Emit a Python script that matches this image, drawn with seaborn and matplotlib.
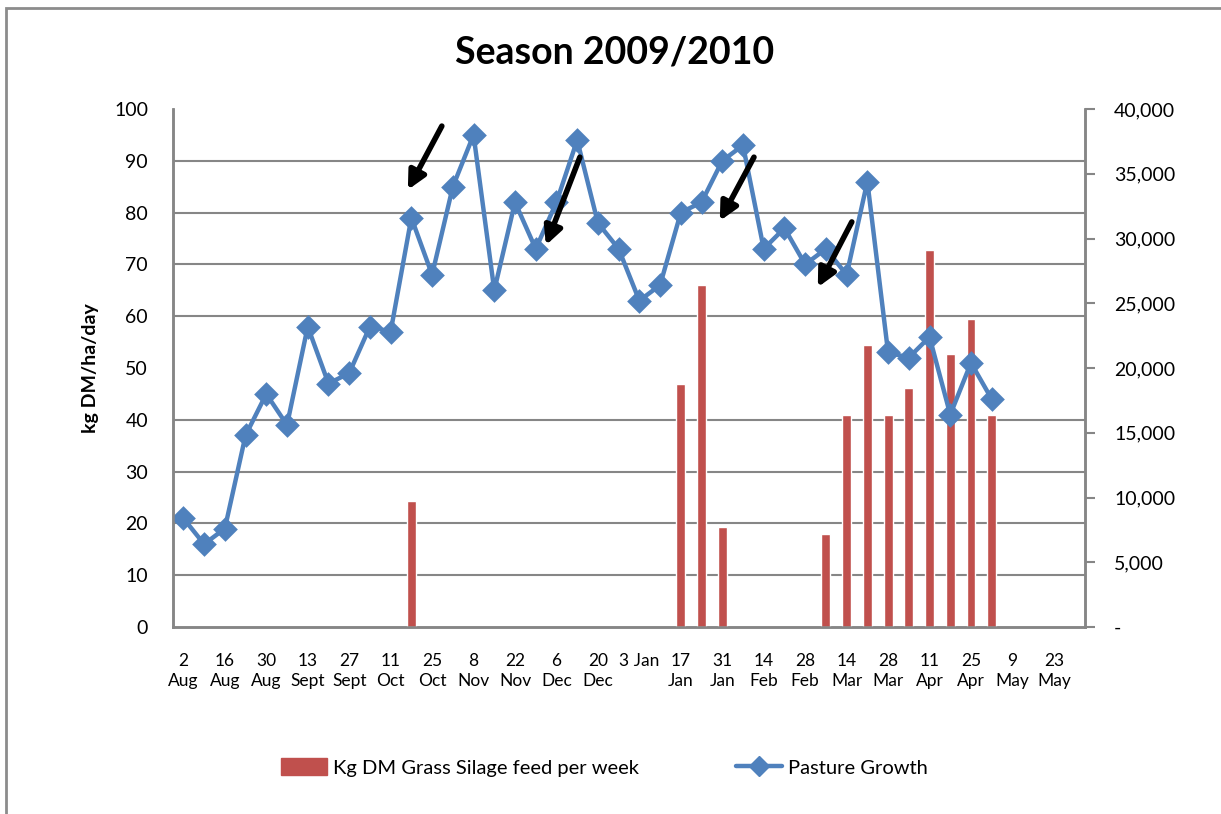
import numpy as np
import pandas as pd
import matplotlib
matplotlib.use("Agg")
import matplotlib.pyplot as plt
import seaborn as sns
from matplotlib.patches import Patch, Rectangle
from matplotlib.lines import Line2D
from matplotlib.ticker import FuncFormatter, MultipleLocator

# ---- data ----
weeks = ["2 Aug", "9 Aug", "16 Aug", "23 Aug", "30 Aug", "6 Sept", "13 Sept", "20 Sept",
         "27 Sept", "4 Oct", "11 Oct", "18 Oct", "25 Oct", "1 Nov", "8 Nov", "15 Nov",
         "22 Nov", "29 Nov", "6 Dec", "13 Dec", "20 Dec", "27 Dec", "3 Jan", "10 Jan",
         "17 Jan", "24 Jan", "31 Jan", "7 Feb", "14 Feb", "21 Feb", "28 Feb", "7 Mar",
         "14 Mar", "21 Mar", "28 Mar", "4 Apr", "11 Apr", "18 Apr", "25 Apr", "2 May",
         "9 May", "16 May", "23 May", "30 May"]

pasture_growth = [21, 16, 19, 37, 45, 39, 58, 47, 49, 58, 57, 79, 68, 85, 95, 65, 82, 73,
                  82, 94, 78, 73, 63, 66, 80, 82, 90, 93, 73, 77, 70, 73, 68, 86, 53, 52,
                  56, 41, 51, 44]

silage_kg = [np.nan] * 11 + [9700] + [np.nan] * 12 + [18800, 26400, 7700] + [np.nan] * 4 + \
            [7200, 16400, 21750, 16400, 18450, 29100, 21100, 23800, 16400] + [np.nan] * 4

tick_labels = ["2\nAug", "", "16\nAug", "", "30\nAug", "", "13\nSept", "", "27\nSept", "",
               "11\nOct", "", "25\nOct", "", "8\nNov", "", "22\nNov", "", "6\nDec", "",
               "20\nDec", "", "3 Jan", "", "17\nJan", "", "31\nJan", "", "14\nFeb", "",
               "28\nFeb", "", "14\nMar", "", "28\nMar", "", "11\nApr", "", "25\nApr", "",
               "9\nMay", "", "23\nMay", ""]

# arrow annotations (tail -> head) in (category index, kg DM/ha/day)
arrow_tails = [(12.47, 96.7), (19.13, 90.7), (27.53, 90.7), (32.25, 78.2)]
arrow_heads = [(10.83, 84.4), (17.49, 73.7), (25.88, 78.4), (30.61, 65.6)]

title = "Season 2009/2010"
bar_label = "Kg DM Grass Silage feed per week"
line_label = "Pasture Growth"

# ---- style ----
sns.set_theme(style="white")
plt.rcParams["font.family"] = ["Lato", "DejaVu Sans"]
plt.rcParams["text.color"] = "black"
plt.rcParams["axes.labelcolor"] = "black"
plt.rcParams["xtick.color"] = "black"
plt.rcParams["ytick.color"] = "black"

BLUE = "#4F81BD"
RED = "#C0504D"
GRID = "#868686"

fig = plt.figure(figsize=(12.21, 8.14), dpi=100)
ax_bar = fig.add_axes([0.1417, 0.2297, 0.7469, 0.6364])

bars_df = pd.DataFrame({"week": weeks, "silage": silage_kg})
line_df = pd.DataFrame({"week": weeks[:len(pasture_growth)], "growth": pasture_growth})

sns.barplot(data=bars_df, x="week", y="silage", order=weeks, color=RED, width=0.43,
            saturation=1, ax=ax_bar, zorder=3)
ax_line = ax_bar.twinx()

ax_bar.set_ylim(0, 40000)
ax_bar.set_xlim(-0.5, len(weeks) - 0.5)
ax_bar.yaxis.tick_right()
ax_bar.yaxis.set_label_position("right")
ax_bar.yaxis.set_major_locator(MultipleLocator(5000))
ax_bar.yaxis.set_major_formatter(FuncFormatter(lambda v, p: "-" if v == 0 else f"{int(v):,}"))
ax_bar.yaxis.set_minor_locator(MultipleLocator(4000))
ax_bar.grid(which="minor", axis="y", color=GRID, lw=1.5, zorder=0)
ax_bar.grid(which="major", axis="y", visible=False)
ax_bar.set_axisbelow(True)
ax_bar.tick_params(axis="y", which="major", left=False, labelleft=False, right=True,
                   labelright=True, length=7, width=1.5, color=GRID,
                   labelsize=14, pad=14, labelcolor="black")
ax_bar.tick_params(axis="y", which="minor", length=0)
ax_bar.set_ylabel("")
ax_bar.set_xlabel("")

ax_line.yaxis.tick_left()
ax_line.yaxis.set_label_position("left")
sns.pointplot(data=line_df, x="week", y="growth", order=weeks, color=BLUE, markers="D",
              markersize=10, linewidth=3.2, ax=ax_line, errorbar=None)
ax_line.set_ylim(0, 100)
ax_line.set_xlim(-0.5, len(weeks) - 0.5)
ax_line.yaxis.set_major_locator(MultipleLocator(10))
ax_line.tick_params(axis="y", left=False, right=False, labelleft=True, labelright=False,
                    labelsize=14, pad=12, labelcolor="black")
ax_line.set_ylabel("kg DM/ha/day", fontsize=14, fontweight="bold", labelpad=11,
                   color="black")
ax_line.set_xlabel("")

for a in (ax_bar, ax_line):
    a.set_xticks(range(len(weeks)))
    a.set_xticklabels(tick_labels, fontsize=12.5, linespacing=1.25, va="top")
    a.tick_params(axis="x", bottom=False, length=0, pad=19, labelcolor="black")
    a.spines["top"].set_visible(False)
    for side in ("left", "right", "bottom"):
        a.spines[side].set_color(GRID)
        a.spines[side].set_linewidth(1.8)

for (tx, ty), (hx, hy) in zip(arrow_tails, arrow_heads):
    ax_line.annotate("", xy=(hx, hy), xytext=(tx, ty),
                     arrowprops=dict(arrowstyle="-|>,head_length=0.9,head_width=0.45",
                                     color="black", lw=4, shrinkA=0, shrinkB=0))

fig.text(0.503, 0.936, title, ha="center", va="center", fontsize=27, fontweight="bold",
         color="black")

handles = [Patch(facecolor=RED, edgecolor=RED),
           Line2D([0], [0], color=BLUE, lw=3.2, marker="D", markersize=10)]
fig.legend(handles, [bar_label, line_label], loc="center", bbox_to_anchor=(0.495, 0.057),
           ncol=2, frameon=False, fontsize=14.5, handlelength=2.3, handleheight=0.9,
           columnspacing=4.8, handletextpad=0.3, labelcolor="black")

fig.add_artist(Rectangle((6 / 1221, -0.05), 1.2, 1 - 8 / 814 + 0.05, transform=fig.transFigure,
                         fill=False, edgecolor="#8C8C8C", lw=2))

fig.savefig("out.png", dpi=100)
